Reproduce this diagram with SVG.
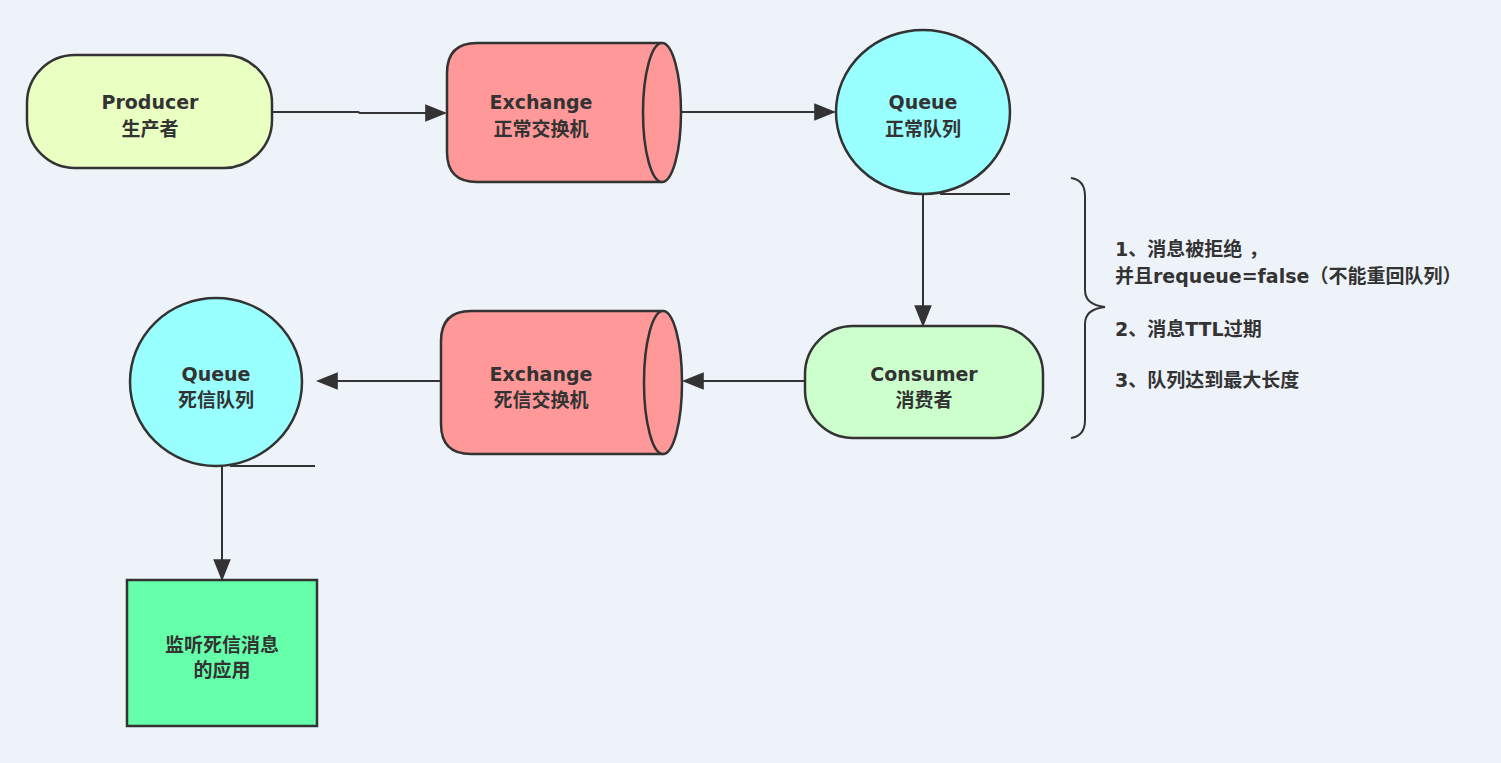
<svg xmlns="http://www.w3.org/2000/svg" width="1501" height="763" viewBox="0 0 1501 763">
<defs>
<style>
.t{font-family:"DejaVu Sans","Noto Sans CJK SC",sans-serif;font-weight:bold;font-size:19px;fill:#333;text-anchor:middle}
.n{font-family:"DejaVu Sans","Noto Sans CJK SC",sans-serif;font-weight:bold;font-size:19px;fill:#333}
.s{stroke:#333;stroke-width:2.5}
.c{stroke:#333;stroke-width:2;fill:none}
</style>
<marker id="ah" viewBox="0 0 10 10" refX="9" refY="5" markerWidth="22" markerHeight="22" markerUnits="userSpaceOnUse" orient="auto">
<path d="M0,1 L10,5 L0,9 z" fill="#333"/>
</marker>
</defs>
<rect width="1501" height="763" fill="#eef2f9"/>
<g id="producer">
<rect x="27" y="55" width="245" height="113" rx="48" fill="#eaffc2" class="s"/>
<text class="t" x="150" y="109">Producer</text>
<text class="t" x="150" y="136">生产者</text>
</g>
<g id="exchange1">
<path d="M662,43 L477,43 Q447,43 447,73 L447,152 Q447,182 477,182 L662,182" fill="#ff9999" class="s"/>
<ellipse cx="662" cy="112.5" rx="19" ry="69.5" fill="#ff9999" class="s"/>
<text class="t" x="541" y="109">Exchange</text>
<text class="t" x="541" y="136">正常交换机</text>
</g>
<g id="queue1">
<ellipse cx="923" cy="112" rx="87" ry="82" fill="#99ffff" class="s"/>
<text class="t" x="923" y="109">Queue</text>
<text class="t" x="923" y="136">正常队列</text>
</g>
<g id="consumer">
<rect x="805" y="326" width="238" height="112" rx="48" fill="#ccffcc" class="s"/>
<text class="t" x="924" y="381">Consumer</text>
<text class="t" x="924" y="407">消费者</text>
</g>
<g id="exchange2">
<path d="M663,311 L471,311 Q441,311 441,341 L441,424 Q441,454 471,454 L663,454" fill="#ff9999" class="s"/>
<ellipse cx="663" cy="382.5" rx="19" ry="71.5" fill="#ff9999" class="s"/>
<text class="t" x="541" y="381">Exchange</text>
<text class="t" x="541" y="407">死信交换机</text>
</g>
<g id="queue2">
<ellipse cx="216" cy="382" rx="86" ry="84" fill="#99ffff" class="s"/>
<text class="t" x="216" y="381">Queue</text>
<text class="t" x="216" y="407">死信队列</text>
</g>
<g id="app">
<rect x="127" y="580" width="190" height="146" fill="#66ffaa" class="s"/>
<text class="t" x="222" y="652">监听死信消息</text>
<text class="t" x="222" y="677">的应用</text>
</g>
<g id="connectors">
<path d="M272,112 L358,112 L360,113 L445,113" class="c" marker-end="url(#ah)"/>
<path d="M681,112 L834,112" class="c" marker-end="url(#ah)"/>
<path d="M923,194 L923,325" class="c" marker-end="url(#ah)"/>
<path d="M805,381 L684,381" class="c" marker-end="url(#ah)"/>
<path d="M441,381 L318,381" class="c" marker-end="url(#ah)"/>
<path d="M222,466 L222,579" class="c" marker-end="url(#ah)"/>
<path d="M940,194 L1010,194" class="c"/>
<path d="M230,466 L315,466" class="c"/>
</g>
<g id="note">
<path d="M1071,178 Q1085,180 1085,196 L1085,290 Q1085,305 1105,307 Q1085,309 1085,324 L1085,420 Q1085,436 1071,438" class="c"/>
<text class="n" x="1115" y="256">1、消息被拒绝 ，</text>
<text class="n" x="1115" y="283">并且requeue=false（不能重回队列）</text>
<text class="n" x="1115" y="336">2、消息TTL过期</text>
<text class="n" x="1115" y="387">3、队列达到最大长度</text>
</g>
</svg>
